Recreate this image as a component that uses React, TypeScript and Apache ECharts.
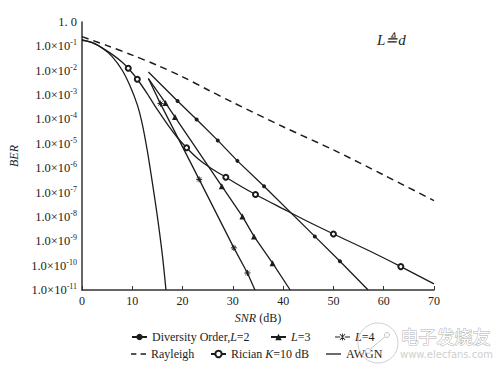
import React, { useEffect, useRef } from 'react';
import * as echarts from 'echarts';

// SNR (dB) tick labels
const SNR_TICKS = [0, 10, 20, 30, 40, 50, 60, 70];
// BER decades shown on the y axis (log10)
const BER_DECADES = [0, -1, -2, -3, -4, -5, -6, -7, -8, -9, -10, -11];

// Diversity order L=2 (filled dots)
const L2_SNR = [13.2, 19, 22.8, 27, 30.9, 36.2, 46.3, 51.3, 56.9];
const L2_LOGBER = [-2.05, -3.24, -4.0, -4.86, -5.7, -6.74, -8.8, -9.82, -11];
const L2_MARK = [0, 1, 1, 1, 1, 1, 1, 1, 0];

// L=3 (triangles)
const L3_SNR = [13.2, 16.6, 18.5, 27.8, 31.9, 34.2, 37.9, 41.4];
const L3_LOGBER = [-2.32, -3.32, -3.9, -6.74, -7.98, -8.8, -9.9, -11];
const L3_MARK = [0, 1, 1, 1, 1, 1, 1, 0];

// L=4 (asterisks)
const L4_SNR = [13.2, 15.6, 23.3, 30.2, 32.9, 34.4];
const L4_LOGBER = [-2.32, -3.35, -6.46, -9.27, -10.3, -11];
const L4_MARK = [0, 1, 1, 1, 1, 0];

// Rayleigh (dashed)
const RAY_SNR = [0, 5, 10, 15, 20, 25, 30, 40, 50, 60, 70];
const RAY_LOGBER = [-0.6, -0.97, -1.36, -1.78, -2.25, -2.78, -3.3, -4.3, -5.25, -6.28, -7.33];

// Rician K=10 dB (open circles)
const RIC_SNR = [0, 2, 4, 6, 8, 9.2, 11, 13, 15, 17, 19, 20.8, 23, 25.5, 28.6, 31.5, 34.5, 40, 45, 50, 57, 63.4, 70];
const RIC_LOGBER = [-0.75, -0.84, -1.06, -1.33, -1.65, -1.9, -2.35, -2.95, -3.6, -4.2, -4.75, -5.16, -5.6, -5.98, -6.37, -6.73, -7.08, -7.67, -8.2, -8.7, -9.38, -10.04, -10.75];
const RIC_MARK = [0, 0, 0, 0, 0, 1, 1, 0, 0, 0, 0, 1, 0, 0, 1, 0, 1, 0, 0, 1, 0, 1, 0];

// AWGN (solid, no marker)
const AWGN_SNR = [0, 2, 4, 6, 8, 9.5, 11, 12, 13, 14, 15, 16, 16.7];
const AWGN_LOGBER = [-0.72, -0.85, -1.07, -1.42, -1.98, -2.6, -3.4, -4.2, -5.3, -6.6, -8.0, -9.6, -11];

const INK = '#1c1c1c';
const SERIF = '"Liberation Serif", "DejaVu Serif", serif';
const STAR = 'path://M0,5L10,5M5,0L5,10M1.5,1.5L8.5,8.5M8.5,1.5L1.5,8.5';

function build(snr: number[], logBer: number[], mark?: number[]) {
  return snr.map((x, i) => {
    const item: any = { value: [x, Math.pow(10, logBer[i])] };
    if (mark && !mark[i]) item.symbol = 'none';
    return item;
  });
}

const LEGEND_TEXT: Record<string, string> = {
  'L=2': '{n|Diversity Order,}{i|L}{n|=2}',
  'L=3': '{i|L}{n|=3}',
  'L=4': '{i|L}{n|=4}',
  Rayleigh: '{n|Rayleigh}',
  Rician: '{n|Rician }{i|K}{n|=10 dB}',
  AWGN: '{n|AWGN}',
};

const LEGEND_ICON: Record<string, string | undefined> = {
  'L=4': 'path://M0,3.6H5.2V4.4H0Z M9.8,3.6H15V4.4H9.8Z M7.1,0.5H7.9V7.5H7.1Z M4.6,1.2L5.2,0.7L10.4,6.8L9.8,7.3Z M9.8,0.7L10.4,1.2L5.2,7.3L4.6,6.8Z',
  Rayleigh: 'path://M0,0H5V1.6H0Z M9,0H14V1.6H9Z',
  AWGN: 'path://M0,0H15V1.3H0Z',
};

function legendAt(name: string, left: number, top: number) {
  const item: any = { name };
  if (LEGEND_ICON[name]) {
    item.icon = LEGEND_ICON[name];
    item.itemStyle = { color: INK, borderWidth: 0, borderColor: 'transparent' };
  }
  return {
    data: [item],
    left,
    top,
    orient: 'horizontal',
    itemWidth: 15,
    itemHeight: 8,
    itemGap: 0,
    padding: 0,
    selectedMode: false,
    formatter: (n: string) => LEGEND_TEXT[n],
    textStyle: {
      color: INK,
      fontFamily: SERIF,
      fontSize: 12,
      rich: {
        n: { fontFamily: SERIF, fontSize: 12, color: INK },
        i: { fontFamily: SERIF, fontSize: 12, color: INK, fontStyle: 'italic' },
      },
    },
  };
}

export default function App() {
  const ref = useRef<HTMLDivElement>(null);
  useEffect(() => {
    if (!ref.current) return;
    const chart = echarts.init(ref.current, undefined, { renderer: 'svg' });
    const lineStyle = { color: INK, width: 1.3 };
    const option: any = {
      animation: false,
      backgroundColor: '#ffffff',
      grid: { left: 82, right: 70, top: 22, bottom: 80, outerBoundsMode: 'none' },
      legend: [
        legendAt('L=2', 131, 331),
        legendAt('L=3', 270, 331),
        legendAt('L=4', 335, 331),
        legendAt('Rayleigh', 131, 348),
        legendAt('Rician', 210, 348),
        legendAt('AWGN', 326, 348),
      ],
      xAxis: {
        type: 'value',
        min: SNR_TICKS[0],
        max: SNR_TICKS[SNR_TICKS.length - 1],
        interval: 10,
        name: '{i|SNR} (dB)',
        nameLocation: 'middle',
        nameGap: 20,
        nameTextStyle: {
          fontFamily: SERIF,
          fontSize: 12,
          color: INK,
          rich: { i: { fontFamily: SERIF, fontSize: 12, fontStyle: 'italic', color: INK } },
        },
        axisLine: { show: true, lineStyle: { color: '#333', width: 1.5 } },
        axisTick: { show: true, inside: true, length: 4, lineStyle: { color: '#333' } },
        axisLabel: { fontFamily: SERIF, fontSize: 12, color: INK, margin: 5 },
        splitLine: { show: false },
      },
      yAxis: {
        type: 'log',
        logBase: 10,
        min: Math.pow(10, BER_DECADES[BER_DECADES.length - 1]),
        max: Math.pow(10, BER_DECADES[0]),
        interval: 1,
        name: 'BER',
        nameLocation: 'middle',
        nameRotate: 90,
        nameGap: 62,
        nameTextStyle: { fontFamily: SERIF, fontSize: 12, fontStyle: 'italic', color: INK },
        axisLine: { show: true, lineStyle: { color: '#333', width: 1.5 } },
        axisTick: { show: false },
        splitLine: { show: false },
        axisLabel: {
          margin: 5,
          formatter: (v: number) => {
            const e = Math.round(Math.log10(v));
            if (e === 0) return '{m|1. 0}';
            return '{m|1.0×10}{s|' + e + '}';
          },
          rich: {
            m: { fontFamily: SERIF, fontSize: 12.5, color: INK, lineHeight: 15 },
            s: { fontFamily: SERIF, fontSize: 8, color: INK, lineHeight: 9, verticalAlign: 'top' },
          },
        },
      },
      graphic: [
        {
          type: 'text',
          left: 377,
          top: 32,
          style: { text: 'L≜d', font: 'italic 15px ' + SERIF, fill: INK },
        },
        {
          type: 'circle',
          shape: { cx: 378, cy: 343, r: 20 },
          style: { fill: 'none', stroke: '#cfcfcf', lineWidth: 1 },
          z: 100,
        },
        {
          type: 'line',
          shape: { x1: 368, y1: 351, x2: 387, y2: 335 },
          style: { stroke: '#c4c4c4', lineWidth: 1 },
          z: 101,
        },
        { type: 'circle', shape: { cx: 368, cy: 351, r: 2.5 }, style: { fill: '#fff', stroke: '#c4c4c4', lineWidth: 1 }, z: 102 },
        { type: 'circle', shape: { cx: 387, cy: 335, r: 2.5 }, style: { fill: '#fff', stroke: '#c4c4c4', lineWidth: 1 }, z: 102 },
        {
          type: 'text',
          left: 400,
          top: 326,
          style: { text: '电子发烧友', font: '18px "Noto Sans CJK SC"', fill: '#ffffff', stroke: '#b0b0b0', lineWidth: 1 },
          z: 103,
        },
        {
          type: 'text',
          left: 400,
          top: 349,
          style: { text: 'www.elecfans.com', font: '10px "DejaVu Sans"', fill: '#cfcfcf' },
          z: 103,
        },
      ],
      series: [
        {
          name: 'L=2', type: 'line', data: build(L2_SNR, L2_LOGBER, L2_MARK),
          symbol: 'circle', symbolSize: 4, itemStyle: { color: INK }, lineStyle,
        },
        {
          name: 'L=3', type: 'line', data: build(L3_SNR, L3_LOGBER, L3_MARK),
          symbol: 'triangle', symbolSize: 6, itemStyle: { color: INK }, lineStyle,
        },
        {
          name: 'L=4', type: 'line', data: build(L4_SNR, L4_LOGBER, L4_MARK),
          symbol: STAR, symbolSize: 6, itemStyle: { color: INK, borderColor: INK, borderWidth: 1 }, lineStyle,
        },
        {
          name: 'Rayleigh', type: 'line', data: build(RAY_SNR, RAY_LOGBER), smooth: 0.3,
          symbol: 'none', itemStyle: { color: INK }, lineStyle: { color: INK, width: 1.5, type: [7, 5] },
        },
        {
          name: 'Rician', type: 'line', data: build(RIC_SNR, RIC_LOGBER, RIC_MARK), smooth: 0.3,
          symbol: 'emptyCircle', symbolSize: 5, itemStyle: { color: INK, borderWidth: 1.2 }, lineStyle,
        },
        {
          name: 'AWGN', type: 'line', data: build(AWGN_SNR, AWGN_LOGBER), smooth: 0.3,
          symbol: 'none', itemStyle: { color: INK }, lineStyle,
        },
      ],
    };
    chart.setOption(option);
    return () => chart.dispose();
  }, []);
  return (
    <div
      ref={ref}
      style={{ position: 'fixed', left: 0, top: 0, width: 504, height: 370, background: '#fff' }}
    />
  );
}
